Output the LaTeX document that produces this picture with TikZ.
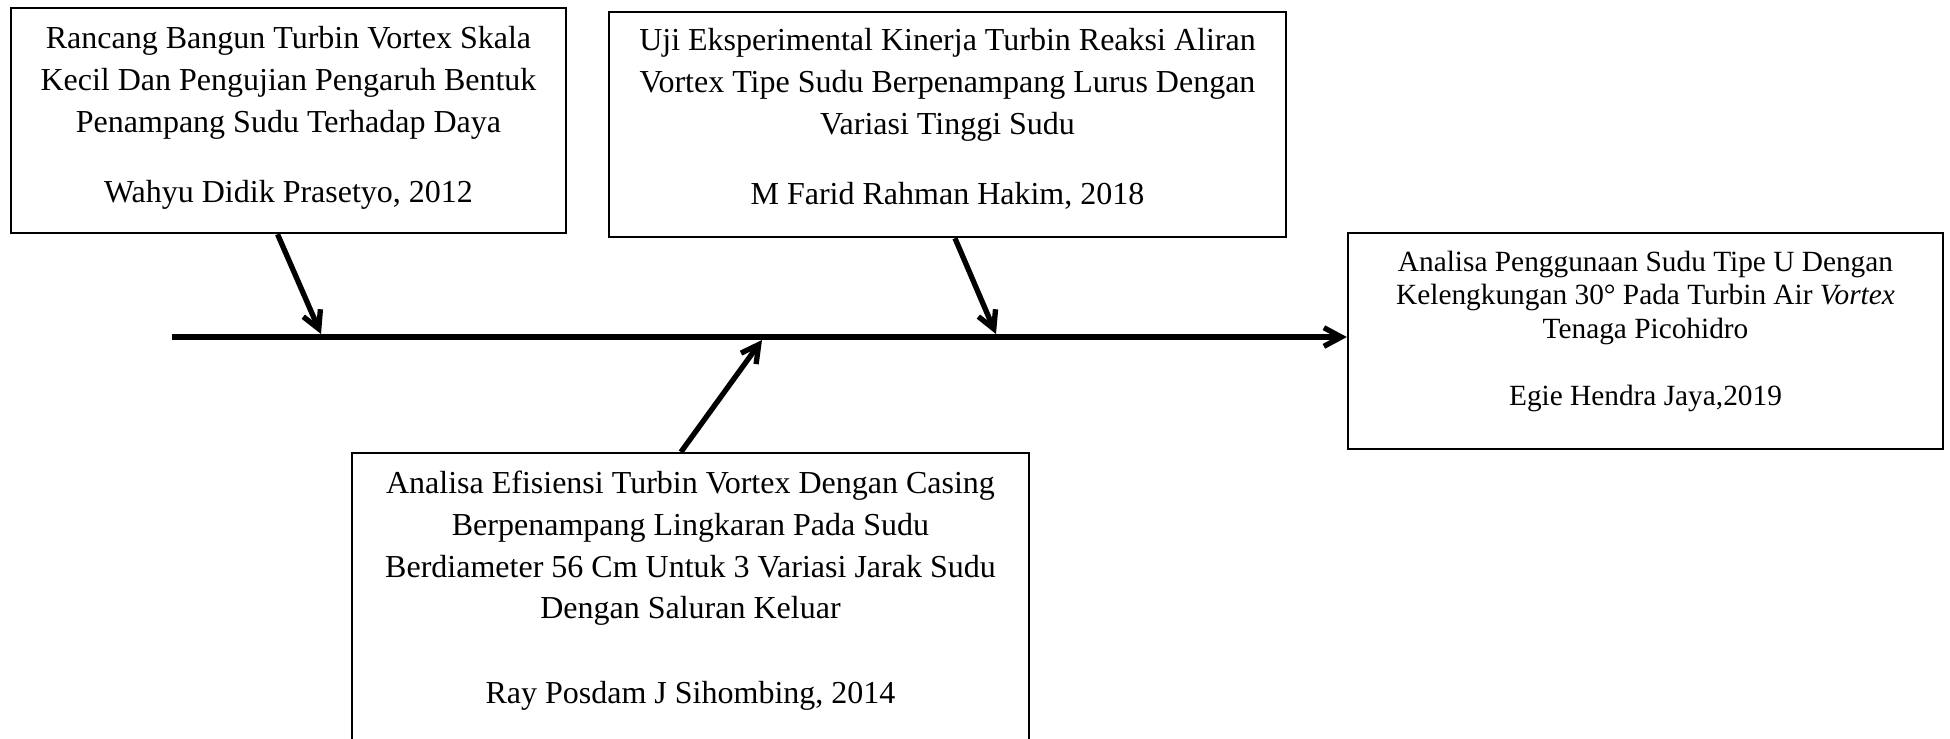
\documentclass[tikz,border=0pt]{standalone}
\usepackage{fontspec}
\setmainfont{Liberation Serif}
\usetikzlibrary{arrows.meta}

\begin{document}
\begin{tikzpicture}[x=0.375pt,y=-0.375pt,>={Straight Barb[length=6.5pt,width=7pt]},
 box/.style={draw,line width=0.9pt,align=center,font=\fontsize{12}{15.75}\selectfont},arr/.style={->,line width=2pt}]
\useasboundingbox (0,0) rectangle (1950,738);
\node[box,minimum width=208pt,minimum height=84.4pt,text depth=4.85pt] (rancang) at (288.5,120.5)
 {Rancang Bangun Turbin Vortex Skala\\Kecil Dan Pengujian Pengaruh Bentuk\\Penampang Sudu Terhadap Daya\\[10.5pt]Wahyu Didik Prasetyo, 2012};
\node[box,minimum width=253.9pt,minimum height=84.4pt,text depth=6.3pt] (ujiexp) at (947.5,124.5)
 {Uji Eksperimental Kinerja Turbin Reaksi Aliran\\Vortex Tipe Sudu Berpenampang Lurus Dengan\\Variasi Tinggi Sudu\\[10.5pt]M Farid Rahman Hakim, 2018};
\node[box,minimum width=223.1pt,minimum height=81pt,text depth=9.75pt,font=\fontsize{11}{12.56}\selectfont] (sudu) at (1645.5,341)
 {Analisa Penggunaan Sudu Tipe U Dengan\\Kelengkungan 30° Pada Turbin Air \textit{Vortex}\\Tenaga Picohidro\\[12.5pt]Egie Hendra Jaya,2019};
\node[box,anchor=north,inner ysep=6.75pt,minimum width=253.9pt,text depth=40pt,font=\fontsize{12}{15.64}\selectfont] (efisiensi) at (690.5,452)
 {Analisa Efisiensi Turbin Vortex Dengan Casing\\Berpenampang Lingkaran Pada Sudu\\Berdiameter 56 Cm Untuk 3 Variasi Jarak Sudu\\Dengan Saluran Keluar\\[16.2pt]Ray Posdam J Sihombing, 2014};
% spine and the three branches
\coordinate (spine) at (172,337);
\coordinate (tA) at (321,334);
\coordinate (tB) at (996,334);
\coordinate (tD) at (762,340);
\draw[arr] (spine)--(spine -| sudu.west);
\draw[arr] ([xshift=-4.1pt]rancang.south)--(tA);
\draw[arr] ([xshift=2.8pt]ujiexp.south)--(tB);
\draw[arr] ([xshift=-3.6pt]efisiensi.north)--(tD);
\end{tikzpicture}
\end{document}
